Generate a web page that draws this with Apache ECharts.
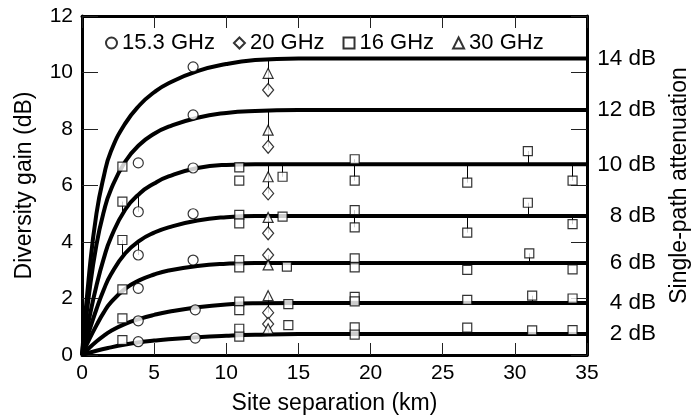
<!DOCTYPE html>
<html>
<head>
<meta charset="utf-8">
<script src="https://cdn.jsdelivr.net/npm/echarts/dist/echarts.min.js"></script>
<style>
  html, body { margin: 0; padding: 0; background: #fff; }
  #chart { width: 691px; height: 416px; }
</style>
</head>
<body>
<div id="chart"></div>
<script>
// Diversity gain vs. site separation, one fitted curve per single-path attenuation level.
const FONT = '"Liberation Sans", Arial, Helvetica, sans-serif';

const levels = [14, 12, 10, 8, 6, 4, 2];
const levelLabels = ['14 dB', '12 dB', '10 dB', '8 dB', '6 dB', '4 dB', '2 dB'];

// Fitted curves: [site separation (km), diversity gain (dB)]
const curve14 = [[0,0],[0.5,2.9],[1,5.0],[1.5,6.3],[2,7.2],[3,8.2],[4,8.85],[5,9.3],[6,9.62],[8,10.05],[10,10.3],[12,10.44],[15,10.5],[20,10.5],[27,10.5],[35,10.5]];
const curve12 = [[0,0],[0.5,2.2],[1,3.9],[1.5,5.05],[2,5.85],[3,6.85],[4,7.45],[5,7.83],[6,8.08],[8,8.4],[10,8.57],[12,8.64],[15,8.67],[20,8.67],[27,8.67],[35,8.67]];
const curve10 = [[0,0],[0.5,1.3],[1,2.45],[1.5,3.4],[2,4.15],[3,5.15],[4,5.72],[5,6.07],[6,6.32],[8,6.62],[10,6.73],[12,6.75],[16,6.75],[22,6.75],[28,6.75],[35,6.75]];
const curve8 = [[0,0],[0.5,0.85],[1,1.62],[1.5,2.3],[2,2.85],[3,3.6],[4,4.05],[5,4.33],[6,4.52],[8,4.76],[10,4.88],[12,4.92],[16,4.92],[22,4.92],[28,4.92],[35,4.92]];
const curve6 = [[0,0],[0.5,0.55],[1,1.05],[1.5,1.5],[2,1.86],[3,2.35],[4,2.65],[5,2.85],[6,2.99],[8,3.15],[10,3.23],[12,3.26],[16,3.26],[22,3.26],[28,3.26],[35,3.26]];
const curve4 = [[0,0],[0.5,0.25],[1,0.48],[1.5,0.68],[2,0.85],[3,1.1],[4,1.28],[5,1.42],[6,1.53],[8,1.69],[10,1.79],[12,1.83],[15,1.84],[20,1.84],[27,1.84],[35,1.84]];
const curve2 = [[0,0],[1,0.15],[2,0.27],[3,0.37],[4,0.45],[5,0.51],[6,0.56],[8,0.63],[10,0.68],[12,0.715],[15,0.74],[20,0.74],[27,0.74],[35,0.74]];
const curves = [curve14, curve12, curve10, curve8, curve6, curve4, curve2];

// Measurements: [site separation (km), gain (dB), level of the curve its residual joins (0 = none)]
const pts15_3 = [
  [3.9,6.8,0],[3.9,5.07,10],[3.9,3.54,8],[3.9,2.36,0],[3.9,1.21,0],[3.9,0.47,0],
  [7.7,10.2,0],[7.7,8.5,0],[7.7,6.62,0],[7.7,5.0,0],[7.7,3.36,0],[7.85,1.6,0],[7.85,0.6,0]
];
const pts20 = [
  [12.9,9.38,14],[12.9,7.37,12],[12.9,5.72,10],[12.9,4.31,8],[12.9,3.54,6],[12.9,1.5,4],[12.9,1.1,2]
];
const pts16 = [
  [2.8,6.67,0],[2.8,5.43,10],[2.8,4.07,8],[2.8,2.32,0],[2.8,1.3,0],[2.8,0.53,0],
  [10.9,6.64,0],[10.9,6.17,0],[10.9,4.96,0],[10.9,4.66,0],[10.9,3.36,0],[10.9,3.1,0],[10.9,1.89,0],[10.9,1.59,0],[10.9,0.93,0],[10.9,0.65,0],
  [13.9,6.31,10],[13.9,4.9,0],[14.2,3.13,0],[14.3,1.8,0],[14.3,1.06,0],
  [18.9,6.93,10],[18.9,6.17,10],[18.9,5.13,8],[18.9,4.52,8],[18.9,3.42,0],[18.9,3.1,0],[18.9,2.06,0],[18.9,1.9,0],[18.9,0.98,0],[18.9,0.72,0],
  [26.7,6.1,10],[26.7,4.33,8],[26.7,3.01,0],[26.7,1.95,0],[26.7,0.97,0],
  [30.9,7.22,10],[30.9,5.39,8],[31.0,3.6,6],[31.2,2.1,4],[31.2,0.87,0],
  [34.0,6.17,10],[34.0,4.63,8],[34.0,3.03,0],[34.0,2.0,0],[34.0,0.88,0]
];
const pts30 = [
  [12.9,9.97,14],[12.9,7.96,12],[12.9,6.31,10],[12.9,4.87,8],[12.9,3.19,6],[12.9,2.1,4],[12.9,0.93,2]
];

// Linear lookup of a curve's gain at a given separation
function curveAt(level, x) {
  const c = curves[levels.indexOf(level)];
  for (let i = 1; i < c.length; i++) {
    if (x <= c[i][0]) {
      const t = (x - c[i-1][0]) / (c[i][0] - c[i-1][0]);
      return c[i-1][1] + t * (c[i][1] - c[i-1][1]);
    }
  }
  return c[c.length - 1][1];
}

// Vertical residual segments from each point to its curve
const residuals = [];
[pts15_3, pts20, pts16, pts30].forEach(set => set.forEach(p => {
  if (p[2]) residuals.push({ coords: [[p[0], p[1]], [p[0], curveAt(p[2], p[0])]] });
}));

const markerStyle = { color: '#fff', borderColor: '#000', borderWidth: 1.2 };
function scatter(name, data, symbol, size) {
  return {
    name, type: 'scatter', data: data.map(p => [p[0], p[1]]),
    symbol, symbolSize: size, itemStyle: markerStyle, z: 4, silent: true
  };
}

const curveSeries = curves.map((c, i) => ({
  type: 'line', data: c, showSymbol: false, smooth: 0.5,
  lineStyle: { color: '#000', width: 4 }, z: 3, silent: true,
  endLabel: {
    show: true, formatter: levelLabels[i], color: '#000', fontSize: 22.5,
    fontFamily: FONT, distance: 0, align: 'right', offset: [69, 0]
  }
}));

const tickText = { color: '#000', fontSize: 21, fontFamily: FONT };
const titleText = { color: '#000', fontSize: 23, fontFamily: FONT };
const axisLine = { show: true, onZero: false, lineStyle: { color: '#000', width: 3 } };
const tick = (len) => ({ show: true, inside: true, length: len, lineStyle: { color: '#222', width: 1 } });

const option = {
  animation: false,
  backgroundColor: '#fff',
  grid: { left: 82, right: 104, top: 16, bottom: 61, outerBoundsMode: 'none', containLabel: false },
  legend: {
    data: ['15.3 GHz', '20 GHz', '16 GHz', '30 GHz'],
    left: 100, top: 27, itemWidth: 11, itemHeight: 11, itemGap: 18,
    textStyle: { color: '#000', fontSize: 22, fontFamily: FONT }
  },
  xAxis: [
    {
      type: 'value', min: 0, max: 35, interval: 5, position: 'bottom',
      axisLine, axisTick: tick(12), splitLine: { show: false },
      axisLabel: Object.assign({ margin: 8 }, tickText),
      name: 'Site separation (km)', nameLocation: 'middle', nameGap: 37,
      nameTextStyle: titleText
    },
    {
      type: 'value', min: 0, max: 35, interval: 5, position: 'top',
      axisLine, axisTick: tick(12), splitLine: { show: false }, axisLabel: { show: false }
    }
  ],
  yAxis: [
    {
      type: 'value', min: 0, max: 12, interval: 2, position: 'left',
      axisLine, axisTick: tick(16), splitLine: { show: false },
      axisLabel: Object.assign({ margin: 9 }, tickText),
      name: 'Diversity gain (dB)', nameLocation: 'middle', nameRotate: 90, nameGap: 46,
      nameTextStyle: titleText
    },
    {
      type: 'value', min: 0, max: 12, interval: 2, position: 'right',
      axisLine, axisTick: tick(16), splitLine: { show: false }, axisLabel: { show: false },
      name: 'Single-path attenuation', nameLocation: 'middle', nameRotate: 90, nameGap: 81,
      nameTextStyle: titleText
    }
  ],
  series: [
    {
      type: 'lines', coordinateSystem: 'cartesian2d', data: residuals, z: 2, silent: true,
      lineStyle: { color: '#000', width: 1, opacity: 1 }
    },
    ...curveSeries,
    scatter('15.3 GHz', pts15_3, 'circle', 10),
    scatter('20 GHz', pts20, 'diamond', [11, 13]),
    scatter('16 GHz', pts16, 'rect', 9),
    scatter('30 GHz', pts30, 'triangle', 10)
  ]
};

echarts.init(document.getElementById('chart')).setOption(option);
</script>
</body>
</html>
